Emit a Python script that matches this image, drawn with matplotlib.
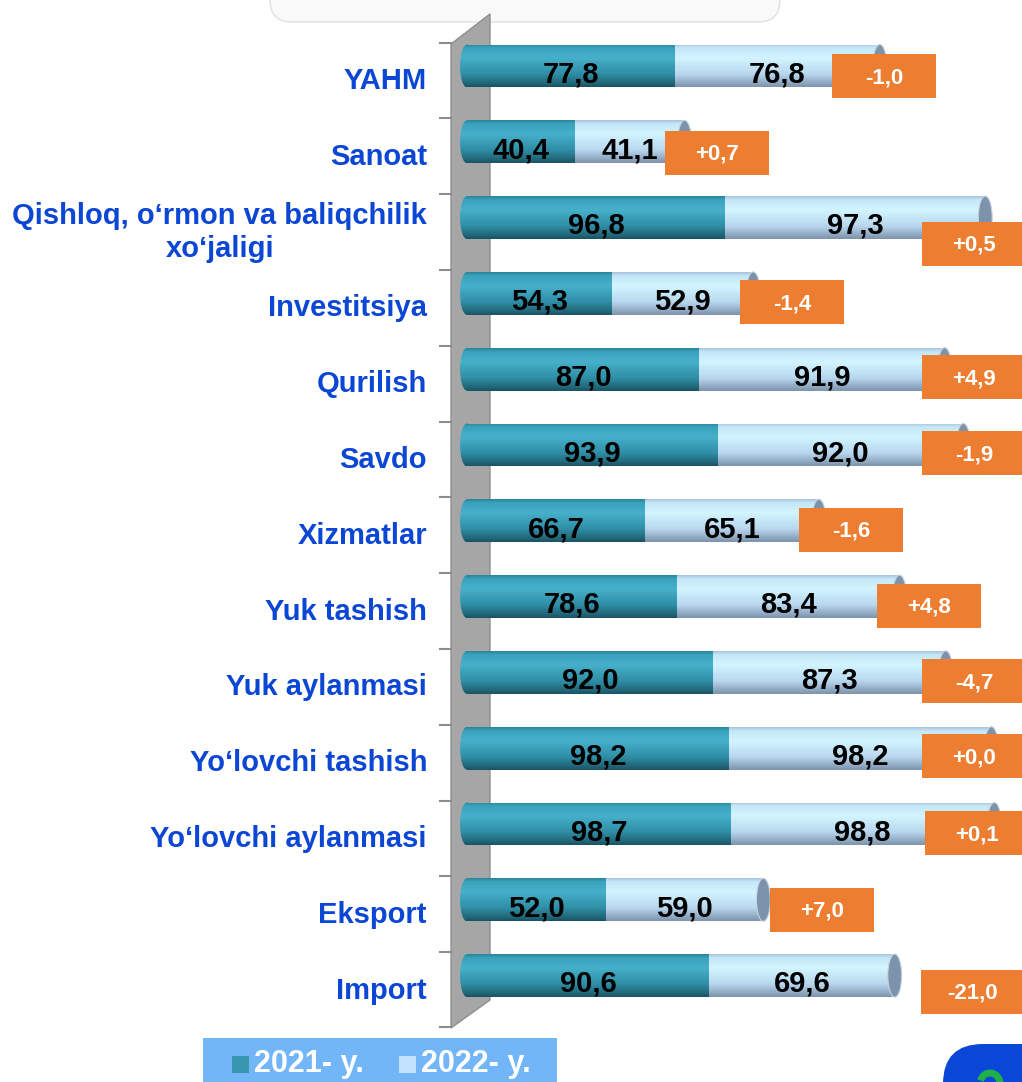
import numpy as np
import matplotlib
matplotlib.use("Agg")
import matplotlib.pyplot as plt
from matplotlib.patches import Rectangle, Ellipse, Polygon, FancyBboxPatch, Arc
from matplotlib.transforms import Affine2D
from matplotlib.colors import LinearSegmentedColormap

# ---------------- data ----------------
categories = ["YAHM", "Sanoat", "Qishloq, o‘rmon va baliqchilik\nxo‘jaligi",
              "Investitsiya", "Qurilish", "Savdo", "Xizmatlar", "Yuk tashish",
              "Yuk aylanmasi", "Yo‘lovchi tashish", "Yo‘lovchi aylanmasi",
              "Eksport", "Import"]
v2021 = [77.8, 40.4, 96.8, 54.3, 87.0, 93.9, 66.7, 78.6, 92.0, 98.2, 98.7, 52.0, 90.6]
v2022 = [76.8, 41.1, 97.3, 52.9, 91.9, 92.0, 65.1, 83.4, 87.3, 98.2, 98.8, 59.0, 69.6]
legend_labels = ["2021- y.", "2022- y."]

# ---------------- layout / style ----------------
W, H = 1022, 1082
FONT = "Liberation Sans"
X0PX = 467.0          # pixel of value 0
PXX = 2.67            # pixels per value unit
PXY = 75.8            # pixels per category step
Y0PX = 66.0           # pixel center of first bar
BAR_H = 0.567
CAP_W = 5.2
XPAD = 5.0            # axis room left of zero for the rounded bar ends

# manual nudges of the orange boxes (pixels)
box_dx_px = [-28, 0, 0, 7, 0, 0, 0, -3, 0, 0, 3, 27, 46]
box_dy_px = [10, 11, 26, 9, 8, 8, 9, 9, 9, 8, 9, 10, 16]

fig = plt.figure(figsize=(W / 100, H / 100), dpi=100)
fig.patch.set_facecolor("white")
pxT = Affine2D().scale(1, -1).translate(0, H)   # image pixel coords -> display

ax_left_px = X0PX - XPAD * PXX
top_px = Y0PX - 0.5 * PXY
bot_px = Y0PX + 12.5 * PXY
ax = fig.add_axes([ax_left_px / W, 1 - bot_px / H, (W - ax_left_px) / W,
                   (bot_px - top_px) / H])
ax.set_xlim(-XPAD, (W - X0PX) / PXX)
ax.set_ylim(12.5, -0.5)
ax.axis("off")

# top shadow box
fig.add_artist(FancyBboxPatch((270, -40), 510, 62, boxstyle="round,pad=0,rounding_size=22",
                              transform=pxT, facecolor="#f9f9f9", edgecolor="#e0e0e0",
                              lw=1.0, zorder=0))

# side wall (3D) and ticks
wall = Polygon([(451, 44), (490, 14), (490, 1000), (451, 1028)], closed=True,
               transform=pxT, facecolor="#a6a6a6", edgecolor="#8f8f8f", lw=1.0,
               clip_on=False, zorder=0.5)
ax.add_patch(wall)
y_pos = np.arange(len(categories))
tick_px = [Y0PX + (i - 0.31) * PXY for i in range(len(categories))] + [1027]
for tp in tick_px:
    ax.plot([440, 451], [tp, tp], transform=pxT, color="#8c8c8c", lw=1.5,
            clip_on=False, zorder=0.6)

# bars
c1, c2 = "#3399b3", "#c8ecfb"
b1 = ax.barh(y_pos, v2021, height=BAR_H, color=c1, lw=0, zorder=2)
b2 = ax.barh(y_pos, v2022, left=v2021, height=BAR_H, color=c2, lw=0, zorder=2)

teal_cmap = LinearSegmentedColormap.from_list(
    "teal", [(0.0, "#2a8298"), (0.08, "#3aa2bc"), (0.32, "#46b0cb"),
             (0.7, "#2f8ea6"), (0.9, "#22697b"), (1.0, "#1a5363")])
light_cmap = LinearSegmentedColormap.from_list(
    "light", [(0.0, "#a9c3da"), (0.08, "#c4e6f7"), (0.32, "#d2f5ff"),
              (0.7, "#b8d7ee"), (0.9, "#90a9c2"), (1.0, "#7d93aa")])
grad = np.linspace(0, 1, 128).reshape(-1, 1)


def shade(patch, cmap, x0, x1, yc, z):
    im = ax.imshow(grad, cmap=cmap, aspect="auto", interpolation="bicubic",
                   extent=(x0, x1, yc + BAR_H / 2, yc - BAR_H / 2), origin="upper",
                   zorder=z)
    im.set_clip_path(patch)


for i, (r1, r2) in enumerate(zip(b1, b2)):
    yc = y_pos[i]
    # left rounded end of the cylinder
    le = Ellipse((0, yc), CAP_W, BAR_H, facecolor="none", edgecolor="none", zorder=2)
    ax.add_patch(le)
    shade(le, teal_cmap, -CAP_W, CAP_W, yc, 2.05)
    shade(r1, teal_cmap, r1.get_x(), r1.get_x() + r1.get_width(), yc, 2.1)
    shade(r2, light_cmap, r2.get_x(), r2.get_x() + r2.get_width(), yc, 2.1)
    end = v2021[i] + v2022[i]
    ax.add_patch(Ellipse((end, yc), CAP_W, BAR_H, facecolor="#7c93ab",
                         edgecolor="#c9d3dd", lw=0.8, zorder=2.3))
    # value labels
    ax.text(v2021[i] / 2, yc + 0.11, f"{v2021[i]:.1f}".replace(".", ","),
            ha="center", va="center", fontsize=21, fontweight="bold",
            family=FONT, color="black", zorder=3)
    ax.text(v2021[i] + v2022[i] / 2, yc + 0.11, f"{v2022[i]:.1f}".replace(".", ","),
            ha="center", va="center", fontsize=21, fontweight="bold",
            family=FONT, color="black", zorder=3)
    # difference boxes
    diff = round(v2022[i] - v2021[i], 1)
    end_px = X0PX + end * PXX
    left_px = min(end_px - 20, 922) + box_dx_px[i]
    bw, bh = 104 / PXX, 44 / PXY
    bx = (left_px - X0PX) / PXX
    bcy = yc + box_dy_px[i] / PXY
    ax.add_patch(Rectangle((bx, bcy - bh / 2), bw, bh, facecolor="#ed7d31",
                           edgecolor="none", zorder=4, clip_on=False))
    ax.text(bx + bw / 2, bcy + 0.02, f"{diff:+.1f}".replace(".", ","), ha="center",
            va="center", fontsize=16, fontweight="bold", family=FONT,
            color="white", zorder=5, clip_on=False)
    # category labels
    ax.text(427, Y0PX + i * PXY + 15, categories[i], transform=pxT, ha="right",
            va="center", multialignment="center", fontsize=21, fontweight="bold",
            family=FONT, color="#0b46d4", linespacing=1.25, clip_on=False)

# legend
fig.add_artist(Rectangle((203, 1038), 354, 60, transform=pxT, facecolor="#72b6f8",
                         edgecolor="none", zorder=1))
fig.add_artist(Rectangle((232, 1056), 17, 17, transform=pxT, facecolor="#3797b0",
                         edgecolor="none", zorder=2))
fig.add_artist(Rectangle((399, 1056), 17, 17, transform=pxT, facecolor="#c2e1ff",
                         edgecolor="none", zorder=2))
fig.text(254 / W, 1 - 1064 / H, legend_labels[0], ha="left", va="center",
         fontsize=22, fontweight="bold", family=FONT, color="white", zorder=3)
fig.text(421 / W, 1 - 1064 / H, legend_labels[1], ha="left", va="center",
         fontsize=22, fontweight="bold", family=FONT, color="white", zorder=3)

# slide number badge (partially visible, only the top of a green glyph shows)
fig.add_artist(FancyBboxPatch((943, 1044), 160, 120, boxstyle="round,pad=0,rounding_size=40",
                              transform=pxT, facecolor="#0a47d6", edgecolor="none", zorder=1))
fig.add_artist(Arc((990, 1084), 20, 22, theta1=200, theta2=360, transform=pxT,
                   color="#1fb04a", lw=5, zorder=2))

fig.savefig("out.png", dpi=100)
